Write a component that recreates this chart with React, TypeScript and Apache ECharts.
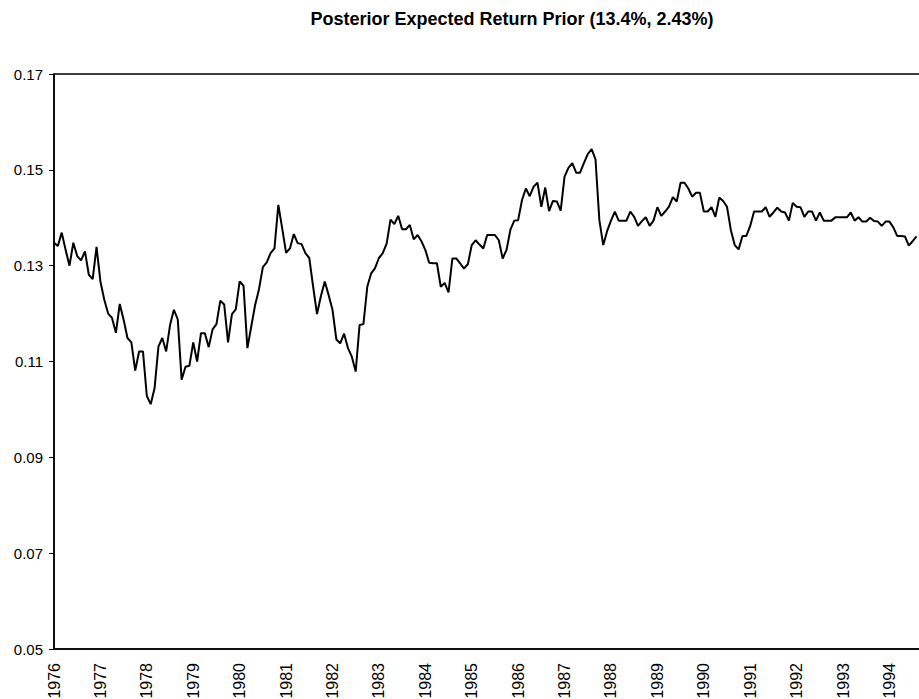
import React, { useEffect, useRef } from "react";
import * as echarts from "echarts";

const titleText = "Posterior Expected Return Prior (13.4%, 2.43%)";

const years = [
  "1976", "1977", "1978", "1979", "1980", "1981", "1982", "1983", "1984", "1985",
  "1986", "1987", "1988", "1989", "1990", "1991", "1992", "1993", "1994",
];
const monthNames = ["01", "02", "03", "04", "05", "06", "07", "08", "09", "10", "11", "12"];
const months: string[] = [];
years.forEach((y) => monthNames.forEach((m) => months.push(y + "-" + m)));

const yTicks = { min: 0.05, max: 0.17, step: 0.02 };

const expectedReturn = [
  0.1348, 0.1341, 0.1369, 0.1333, 0.13, 0.1348, 0.132, 0.1311, 0.133, 0.1281, 0.1272, 0.1339,
  0.1267, 0.1229, 0.12, 0.1191, 0.116, 0.122, 0.1187, 0.1149, 0.114, 0.1081, 0.1121, 0.1121,
  0.1028, 0.1011, 0.1044, 0.1131, 0.1149, 0.1121, 0.1176, 0.1208, 0.1188, 0.1062, 0.1089, 0.1091,
  0.114, 0.11, 0.1159, 0.1159, 0.113, 0.1167, 0.1178, 0.1227, 0.1219, 0.114, 0.1199, 0.1209,
  0.1267, 0.1258, 0.1128, 0.1173, 0.1218, 0.1251, 0.1297, 0.1307, 0.1326, 0.1336, 0.1427, 0.1378,
  0.1327, 0.1336, 0.1366, 0.1347, 0.1345, 0.1326, 0.1316, 0.1256, 0.1199, 0.1236, 0.1267, 0.1239,
  0.1208, 0.1146, 0.1138, 0.1158, 0.1128, 0.111, 0.1079, 0.1176, 0.1178, 0.1256, 0.1284, 0.1295,
  0.1316, 0.1326, 0.1346, 0.1396, 0.1387, 0.1404, 0.1376, 0.1376, 0.1385, 0.1355, 0.1364, 0.1351,
  0.1333, 0.1306, 0.1305, 0.1305, 0.1256, 0.1264, 0.1244, 0.1315, 0.1315, 0.1305, 0.1294, 0.1303,
  0.1343, 0.1353, 0.1344, 0.1336, 0.1364, 0.1364, 0.1364, 0.1353, 0.1315, 0.1333, 0.1375, 0.1394,
  0.1395, 0.1437, 0.1461, 0.1445, 0.1465, 0.1473, 0.1423, 0.1463, 0.1414, 0.1435, 0.1434, 0.1415,
  0.1486, 0.1504, 0.1514, 0.1494, 0.1494, 0.1514, 0.1533, 0.1543, 0.1522, 0.1395, 0.1343, 0.1372,
  0.1394, 0.1413, 0.1394, 0.1394, 0.1394, 0.1413, 0.1402, 0.1383, 0.1393, 0.1401, 0.1383, 0.1394,
  0.1422, 0.1404, 0.1413, 0.1423, 0.1443, 0.1434, 0.1473, 0.1473, 0.1461, 0.1444, 0.1452, 0.1452,
  0.1413, 0.1413, 0.1422, 0.1402, 0.1442, 0.1435, 0.1423, 0.1374, 0.1343, 0.1334, 0.1362, 0.1362,
  0.1383, 0.1413, 0.1413, 0.1413, 0.1422, 0.1402, 0.1411, 0.1421, 0.1413, 0.1411, 0.1394, 0.1431,
  0.1423, 0.1422, 0.1402, 0.1413, 0.1413, 0.1394, 0.1411, 0.1394, 0.1394, 0.1394, 0.1401, 0.1401,
  0.1401, 0.1401, 0.1411, 0.1394, 0.1401, 0.1392, 0.1392, 0.14, 0.1393, 0.1392, 0.1383, 0.1392,
  0.1392, 0.138, 0.1362, 0.1362, 0.1361, 0.1342, 0.1351, 0.1361,
];

const FONT = "'Liberation Sans', Arial, Helvetica, sans-serif";

export default function App() {
  const ref = useRef<HTMLDivElement>(null);
  useEffect(() => {
    if (!ref.current) return;
    const chart = echarts.init(ref.current, undefined, { renderer: "svg" });
    chart.setOption({
      animation: false,
      backgroundColor: "#ffffff",
      graphic: [
        {
          type: "text",
          x: 512,
          y: 19,
          style: {
            text: titleText,
            font: `bold 18px ${FONT}`,
            fill: "#000",
            align: "center",
            verticalAlign: "middle",
            textAlign: "center",
            textVerticalAlign: "middle",
          },
        },
      ],
      grid: {
        left: 54,
        top: 74,
        bottom: 50,
        width: 878,
        outerBoundsMode: "none",
        show: true,
        borderColor: "#000",
        borderWidth: 1.5,
        backgroundColor: "transparent",
        containLabel: false,
      },
      xAxis: {
        type: "category",
        data: months,
        boundaryGap: false,
        axisLine: { show: true, lineStyle: { color: "#000", width: 1.5 } },
        axisTick: { show: false },
        splitLine: { show: false },
        axisLabel: {
          interval: 11,
          rotate: 90,
          margin: 14,
          color: "#000",
          fontSize: 16,
          fontFamily: FONT,
          hideOverlap: false,
          formatter: (v: string) => v.slice(0, 4),
        },
      },
      yAxis: {
        type: "value",
        min: yTicks.min,
        max: yTicks.max,
        interval: yTicks.step,
        axisLine: { show: true, lineStyle: { color: "#000", width: 1.5 } },
        axisTick: { show: true, inside: false, length: 5, lineStyle: { color: "#000", width: 1 } },
        splitLine: { show: false },
        axisLabel: {
          margin: 11,
          color: "#000",
          fontSize: 15,
          fontFamily: FONT,
          formatter: (v: number) => v.toFixed(2),
        },
      },
      series: [
        {
          type: "line",
          data: expectedReturn,
          showSymbol: false,
          symbol: "none",
          lineStyle: { color: "#000", width: 2 },
          clip: true,
        },
      ],
    });
    return () => chart.dispose();
  }, []);
  return (
    <div
      ref={ref}
      style={{ position: "absolute", left: 0, top: 0, width: 919, height: 699, background: "#fff" }}
    />
  );
}
